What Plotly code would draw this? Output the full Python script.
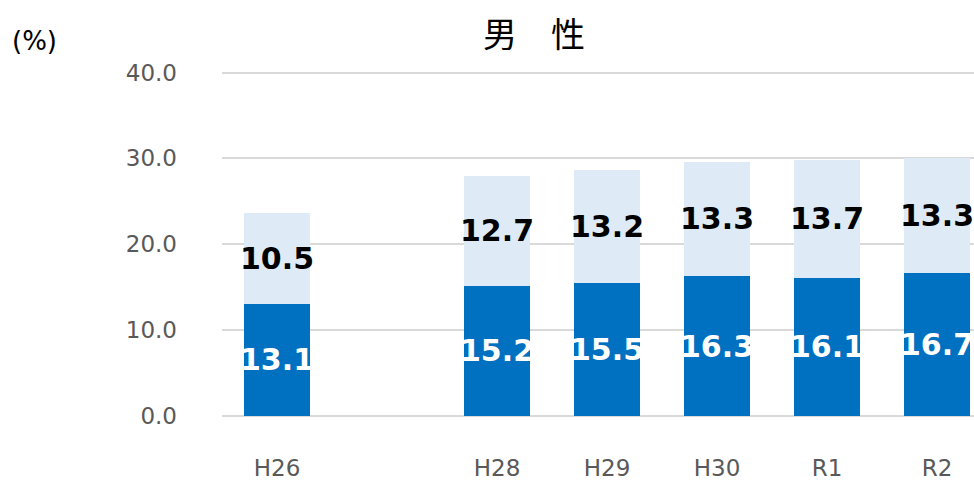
import plotly.graph_objects as go

categories = ["H26", "H27", "H28", "H29", "H30", "R1", "R2"]
tick_labels = ["H26", "", "H28", "H29", "H30", "R1", "R2"]
lower_values = [13.1, None, 15.2, 15.5, 16.3, 16.1, 16.7]
upper_values = [10.5, None, 12.7, 13.2, 13.3, 13.7, 13.3]
y_ticks = [0, 10, 20, 30, 40]
y_tick_labels = ["0.0", "10.0", "20.0", "30.0", "40.0"]

FONT = "DejaVu Sans"
W, H = 974, 481
ML, MR, MT, MB = 222, 0, 70, 63
PW, PH = W - ML - MR, H - MT - MB

def fmt(v):
    return "" if v is None else f"{v:.1f}"

fig = go.Figure()
fig.add_trace(go.Bar(
    x=categories, y=lower_values,
    marker=dict(color="#0070C0", line=dict(width=0)),
    text=[fmt(v) for v in lower_values],
    textposition="inside", insidetextanchor="middle",
    constraintext="none", textangle=0,
    insidetextfont=dict(family=FONT, size=30, color="white", weight="bold"),
    hoverinfo="skip",
))
fig.add_trace(go.Bar(
    x=categories, y=upper_values,
    marker=dict(color="#DEEBF7", line=dict(width=0)),
    text=[fmt(v) for v in upper_values],
    textposition="inside", insidetextanchor="middle",
    constraintext="none", textangle=0,
    insidetextfont=dict(family=FONT, size=30, color="black", weight="bold"),
    hoverinfo="skip",
))

fig.update_layout(
    barmode="stack",
    bargap=0.4,
    width=W, height=H,
    margin=dict(l=ML, r=MR, t=MT, b=MB),
    plot_bgcolor="white", paper_bgcolor="white",
    showlegend=False,
    font=dict(family=FONT),
    xaxis=dict(
        type="category",
        categoryorder="array", categoryarray=categories,
        range=[-0.5, -0.5 + PW / 110],
        tickvals=categories, ticktext=tick_labels,
        tickfont=dict(family=FONT, size=23, color="#595959"),
        ticklabelstandoff=36,
        showgrid=False, zeroline=False, showline=False, ticks="",
    ),
    yaxis=dict(
        range=[0, 40.3],
        tickvals=y_ticks, ticktext=y_tick_labels,
        tickfont=dict(family=FONT, size=23, color="#595959"),
        ticklabelstandoff=44,
        showgrid=True, gridcolor="#D9D9D9", gridwidth=1.5,
        zeroline=True, zerolinecolor="#D9D9D9", zerolinewidth=1.5,
        showline=False, ticks="",
    ),
    annotations=[
        dict(text="男　性", xref="paper", yref="paper",
             x=(534 - ML) / PW, y=1 + (MT - 32) / PH,
             xanchor="center", yanchor="middle", showarrow=False,
             font=dict(family="Noto Sans CJK JP", size=34, color="black")),
        dict(text="(%)", xref="paper", yref="paper",
             x=(10 - ML) / PW, y=1 + (MT - 41) / PH,
             xanchor="left", yanchor="middle", showarrow=False,
             font=dict(family=FONT, size=26, color="black")),
    ],
)

fig.write_html(
    "out.html",
    config={"displayModeBar": False},
    post_script="document.body.style.margin='0';document.body.style.overflow='hidden';",
)
